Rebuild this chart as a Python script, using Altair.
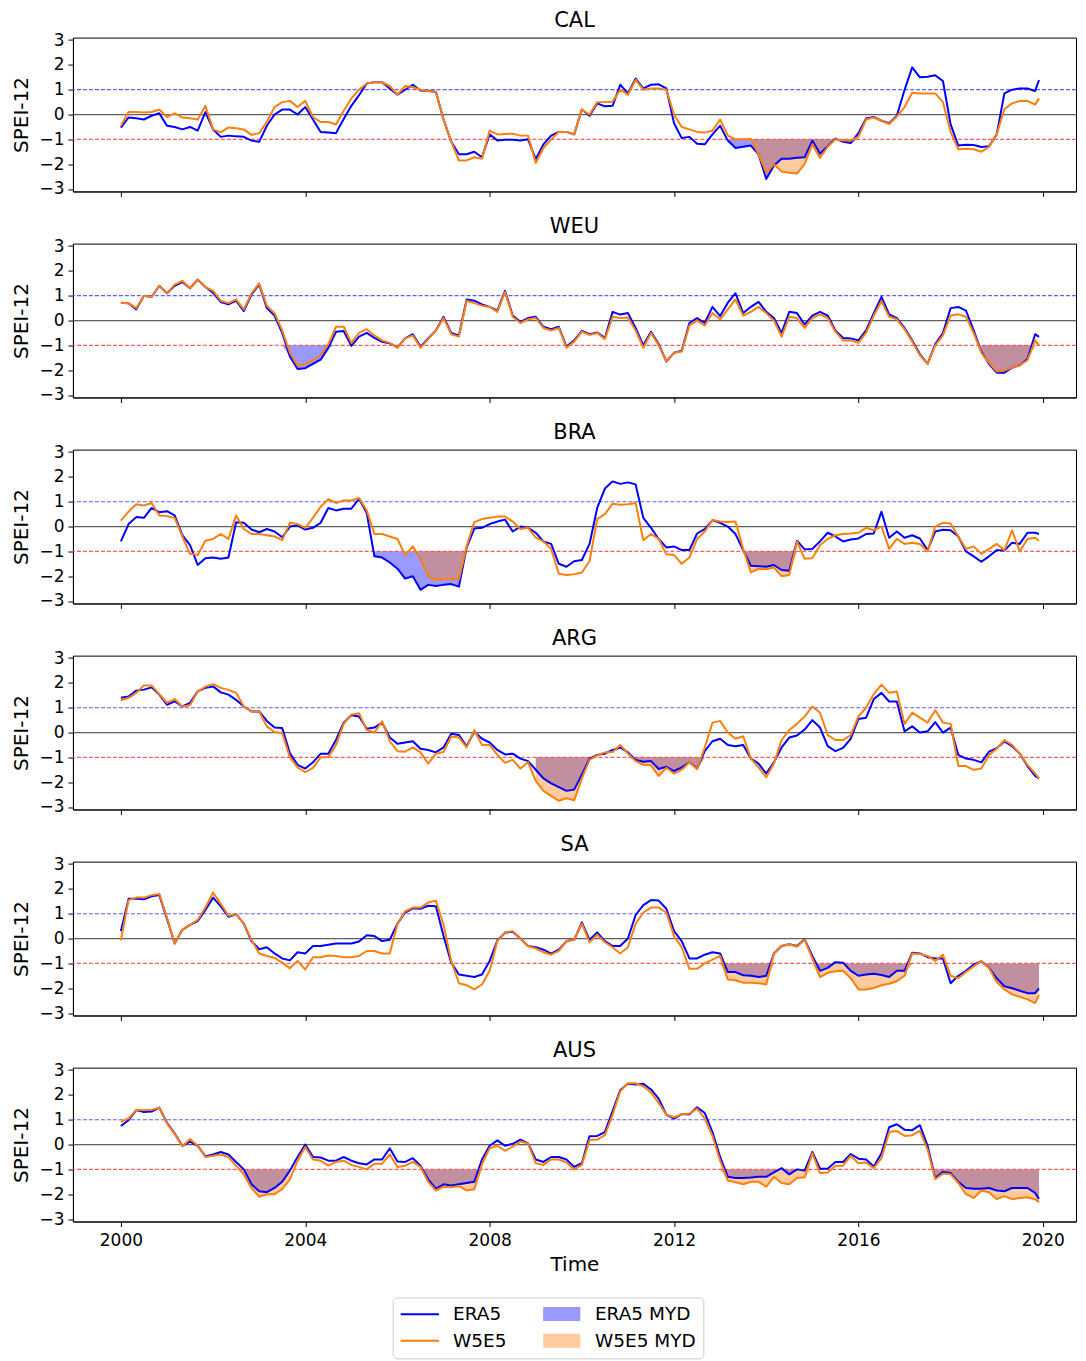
import altair as alt
import pandas as pd

# ---------------- data (2-month steps 2000.0 .. 2019.83 + Dec 2019) ----
TIME = [2000 + i / 6 for i in range(120)] + [2019.917]

REGIONS = ["CAL", "WEU", "BRA", "ARG", "SA", "AUS"]

CAL_ERA5 = [
    -0.53, -0.12, -0.15, -0.2, -0.05, 0.05, -0.45, -0.5, -0.6, -0.5,
    -0.65, 0.1, -0.6, -0.9, -0.85, -0.88, -0.9, -1.05, -1.1, -0.45,
    0.0, 0.2, 0.2, 0.0, 0.3, -0.2, -0.7, -0.72, -0.75, -0.18,
    0.35, 0.78, 1.25, 1.3, 1.3, 1.05, 0.8, 1.0, 1.2, 0.97,
    0.95, 0.92, -0.2, -1.1, -1.6, -1.6, -1.5, -1.72, -0.8, -1.05,
    -1.02, -1.02, -1.05, -1.0, -1.8, -1.2, -0.85, -0.7, -0.7, -0.8,
    0.2, -0.05, 0.45, 0.33, 0.35, 1.2, 0.85, 1.45, 1.05, 1.2,
    1.22, 1.05, -0.35, -0.95, -0.9, -1.18, -1.2, -0.8, -0.45, -1.05,
    -1.35, -1.3, -1.25, -1.6, -2.6, -2.05, -1.78, -1.78, -1.74, -1.72,
    -1.05, -1.58, -1.28, -0.97, -1.1, -1.15, -0.75, -0.16, -0.1, -0.25,
    -0.35, -0.05, 0.99, 1.9, 1.5, 1.52, 1.58, 1.35, -0.4, -1.25,
    -1.22, -1.23, -1.31, -1.28, -0.8, 0.85, 1.0, 1.05, 1.05, 0.95,
    1.39]
CAL_W5E5 = [
    -0.45, 0.1, 0.1, 0.08, 0.1, 0.2, -0.1, 0.05, -0.12, -0.15,
    -0.2, 0.35, -0.6, -0.72, -0.52, -0.55, -0.6, -0.82, -0.75, -0.3,
    0.3, 0.5, 0.55, 0.3, 0.55, -0.1, -0.3, -0.3, -0.4, 0.15,
    0.65, 1.0, 1.25, 1.3, 1.3, 1.15, 0.8, 1.15, 1.1, 1.0,
    0.95, 0.92, -0.2, -1.1, -1.85, -1.85, -1.72, -1.78, -0.65, -0.8,
    -0.78, -0.77, -0.85, -0.85, -1.95, -1.35, -1.0, -0.7, -0.7, -0.8,
    0.2, 0.0, 0.5, 0.5, 0.52, 1.0, 0.8, 1.4, 1.0, 1.05,
    1.05, 1.0, 0.0, -0.5, -0.6, -0.7, -0.72, -0.65, -0.2, -0.85,
    -1.0, -1.0, -0.98, -1.6, -2.35, -2.0, -2.3, -2.35, -2.38, -2.0,
    -1.2, -1.75, -1.3, -1.0, -1.05, -1.05, -0.9, -0.2, -0.12, -0.25,
    -0.38, -0.08, 0.3, 0.88, 0.85, 0.85, 0.85, 0.5, -0.7, -1.4,
    -1.38, -1.4, -1.5, -1.3, -0.8, 0.22, 0.45, 0.55, 0.55, 0.4,
    0.65]

WEU_ERA5 = [
    0.72, 0.7, 0.45, 1.0, 0.95, 1.4, 1.1, 1.4, 1.55, 1.3,
    1.65, 1.35, 1.12, 0.75, 0.65, 0.8, 0.38, 1.05, 1.45, 0.5,
    0.2, -0.5, -1.45, -1.95, -1.92, -1.75, -1.58, -1.1, -0.45, -0.42,
    -1.02, -0.65, -0.5, -0.7, -0.86, -0.92, -1.08, -0.72, -0.55, -1.05,
    -0.72, -0.4, 0.15, -0.5, -0.6, 0.85, 0.8, 0.65, 0.55, 0.4,
    1.2, 0.2, -0.05, 0.1, 0.15, -0.25, -0.35, -0.25, -1.05, -0.8,
    -0.42, -0.55, -0.48, -0.7, 0.35, 0.24, 0.3, -0.3, -1.0, -0.45,
    -0.95, -1.65, -1.3, -1.22, -0.1, 0.1, -0.1, 0.55, 0.18, 0.72,
    1.1, 0.3, 0.55, 0.75, 0.35, 0.1, -0.5, 0.35, 0.3, -0.16,
    0.2, 0.35, 0.2, -0.4, -0.7, -0.72, -0.8, -0.4, 0.3, 0.95,
    0.25, 0.1, -0.3, -0.8, -1.35, -1.75, -0.95, -0.5, 0.5, 0.55,
    0.4, -0.4, -1.25, -1.75, -2.1, -2.1, -1.9, -1.8, -1.55, -0.55,
    -0.66]
WEU_W5E5 = [
    0.72, 0.7, 0.5, 1.0, 0.95, 1.4, 1.1, 1.45, 1.6, 1.3,
    1.65, 1.35, 1.2, 0.8, 0.7, 0.85, 0.45, 1.1, 1.5, 0.6,
    0.3, -0.4, -1.3, -1.82, -1.75, -1.6, -1.4, -0.95, -0.25, -0.25,
    -0.9, -0.5, -0.35, -0.6, -0.8, -0.9, -1.1, -0.72, -0.6, -1.1,
    -0.75, -0.4, 0.1, -0.55, -0.65, 0.8, 0.7, 0.6, 0.55, 0.35,
    1.15, 0.15, -0.1, 0.05, 0.1, -0.3, -0.4, -0.3, -1.1, -0.85,
    -0.45, -0.58, -0.5, -0.75, 0.15, 0.1, 0.12, -0.4, -1.1, -0.5,
    -1.0, -1.65, -1.3, -1.25, -0.2, 0.0, -0.2, 0.3, 0.05, 0.45,
    0.85, 0.2, 0.35, 0.55, 0.3, 0.0, -0.65, 0.15, 0.1, -0.3,
    0.1, 0.25, 0.1, -0.45, -0.8, -0.8, -0.9, -0.5, 0.2, 0.78,
    0.15, 0.05, -0.35, -0.85, -1.4, -1.75, -1.0, -0.6, 0.2, 0.25,
    0.15, -0.5, -1.3, -1.7, -2.05, -2.02, -1.9, -1.8, -1.6, -0.8,
    -1.0]

BRA_ERA5 = [
    -0.6, 0.1, 0.38, 0.35, 0.75, 0.58, 0.62, 0.45, -0.35, -0.75,
    -1.55, -1.28, -1.25, -1.3, -1.25, 0.17, 0.15, -0.12, -0.23, -0.1,
    -0.2, -0.43, 0.0, 0.05, -0.12, -0.05, 0.15, 0.75, 0.65, 0.72,
    0.72, 1.12, 0.55, -1.2, -1.25, -1.45, -1.7, -2.1, -2.0, -2.55,
    -2.35, -2.4, -2.35, -2.32, -2.42, -0.85, -0.08, -0.05, 0.1, 0.2,
    0.28, -0.2, 0.0, -0.05, -0.25, -0.6, -0.7, -1.5, -1.62, -1.4,
    -1.35, -0.7, 0.75, 1.53, 1.82, 1.72, 1.78, 1.7, 0.35, -0.05,
    -0.5, -0.84, -0.8, -0.95, -0.95, -0.28, -0.1, 0.26, 0.15, 0.0,
    -0.3, -0.95, -1.58, -1.6, -1.62, -1.55, -1.75, -1.78, -0.57, -0.92,
    -0.9, -0.6, -0.25, -0.4, -0.6, -0.52, -0.48, -0.3, -0.28, 0.6,
    -0.45, -0.2, -0.45, -0.35, -0.48, -0.95, -0.2, -0.13, -0.15, -0.4,
    -1.0, -1.2, -1.42, -1.2, -0.95, -0.97, -0.65, -0.7, -0.25, -0.25,
    -0.3]
BRA_W5E5 = [
    0.24, 0.6, 0.9, 0.85, 0.95, 0.45, 0.42, 0.35, -0.4, -1.1,
    -1.15, -0.57, -0.5, -0.3, -0.5, 0.45, -0.1, -0.3, -0.3, -0.35,
    -0.4, -0.55, 0.15, 0.1, -0.05, 0.35, 0.8, 1.1, 0.95, 1.05,
    1.05, 1.15, 0.65, -0.3, -0.3, -0.4, -0.5, -1.15, -0.8, -1.3,
    -2.0, -2.15, -2.12, -2.1, -2.15, -0.8, 0.18, 0.3, 0.35, 0.4,
    0.4, 0.2, -0.1, -0.05, -0.45, -0.6, -0.9, -1.9, -1.95, -1.92,
    -1.85, -1.4, 0.3, 0.5, 0.92, 0.88, 0.9, 0.95, -0.55, -0.3,
    -0.5, -1.12, -1.15, -1.5, -1.25, -0.5, -0.2, 0.26, 0.2, 0.18,
    0.2, -0.9, -1.85, -1.7, -1.72, -1.65, -2.0, -1.95, -0.6, -1.3,
    -1.28, -0.75, -0.5, -0.35, -0.3, -0.28, -0.25, -0.05, -0.15, 0.0,
    -0.9, -0.5, -0.7, -0.65, -0.7, -1.0, 0.0, 0.15, 0.12, -0.4,
    -0.9, -0.8, -1.1, -0.9, -0.7, -0.95, -0.15, -1.0, -0.5, -0.45,
    -0.57]

ARG_ERA5 = [
    1.4, 1.45, 1.69, 1.73, 1.82, 1.53, 1.12, 1.26, 1.05, 1.2,
    1.66, 1.8, 1.86, 1.62, 1.53, 1.32, 1.05, 0.85, 0.85, 0.47,
    0.2, 0.18, -0.84, -1.3, -1.45, -1.2, -0.85, -0.85, -0.3, 0.4,
    0.7, 0.65, 0.15, 0.2, 0.4, -0.2, -0.45, -0.4, -0.35, -0.65,
    -0.7, -0.8, -0.6, -0.05, -0.1, -0.55, 0.04, -0.25, -0.4, -0.7,
    -0.88, -0.85, -1.05, -1.15, -1.5, -1.85, -2.05, -2.2, -2.35, -2.3,
    -1.7, -1.05, -0.9, -0.85, -0.7, -0.6, -0.8, -1.1, -1.18, -1.15,
    -1.47, -1.38, -1.55, -1.4, -1.2, -1.45, -0.75, -0.35, -0.25, -0.5,
    -0.55, -0.5, -1.05, -1.25, -1.65, -1.2, -0.6, -0.2, -0.12, 0.12,
    0.5, 0.2, -0.55, -0.75, -0.62, -0.25, 0.55, 0.6, 1.35, 1.6,
    1.25, 1.25, 0.05, 0.25, 0.0, 0.05, 0.42, 0.0, 0.2, -0.9,
    -1.05, -1.1, -1.2, -0.77, -0.63, -0.36, -0.55, -0.85, -1.35, -1.75,
    -1.85]
ARG_W5E5 = [
    1.3, 1.4, 1.6, 1.9, 1.9, 1.55, 1.2, 1.35, 1.05, 1.1,
    1.65, 1.85, 1.95, 1.8, 1.72, 1.6, 1.05, 0.85, 0.85, 0.25,
    0.02, -0.02, -1.0, -1.4, -1.6, -1.42, -1.0, -1.0, -0.5, 0.35,
    0.72, 0.78, 0.1, 0.0, 0.45, -0.35, -0.75, -0.77, -0.6, -0.8,
    -1.25, -0.85, -0.78, -0.16, -0.2, -0.6, 0.1, -0.5, -0.5, -0.9,
    -1.22, -1.1, -1.45, -1.2, -1.95, -2.35, -2.55, -2.75, -2.65, -2.73,
    -1.85, -1.1, -0.92, -0.8, -0.78, -0.5, -0.85, -1.15, -1.3, -1.32,
    -1.75, -1.42, -1.65, -1.5, -1.2, -1.48, -0.6, 0.4, 0.47, 0.0,
    -0.25, -0.15, -1.05, -1.4, -1.8, -1.25, -0.3, 0.1, 0.35, 0.65,
    1.05, 0.8, -0.1, -0.3, -0.3, -0.1, 0.65, 1.0, 1.55, 1.93,
    1.6, 1.65, 0.35, 0.8, 0.6, 0.4, 0.9, 0.4, 0.35, -1.35,
    -1.35, -1.5, -1.45, -0.9, -0.65, -0.3, -0.5, -0.85, -1.3, -1.65,
    -1.85]

SA_ERA5 = [
    0.3, 1.6, 1.6, 1.58, 1.7, 1.75, 0.8, -0.2, 0.35, 0.55,
    0.7, 1.15, 1.65, 1.3, 0.88, 0.98, 0.6, -0.1, -0.43, -0.35,
    -0.6, -0.8, -0.88, -0.55, -0.6, -0.3, -0.3, -0.25, -0.2, -0.2,
    -0.2, -0.12, 0.13, 0.1, -0.1, -0.05, 0.6, 1.05, 1.22, 1.2,
    1.32, 1.3, 0.1, -0.97, -1.45, -1.5, -1.55, -1.45, -0.9, -0.08,
    0.24, 0.27, 0.0, -0.3, -0.35, -0.45, -0.61, -0.45, -0.1, -0.05,
    0.65, -0.05, 0.25, -0.1, -0.3, -0.3, 0.0, 0.95, 1.35, 1.55,
    1.53, 1.2, 0.3, -0.1, -0.8, -0.8, -0.65, -0.55, -0.6, -1.35,
    -1.35, -1.48, -1.5, -1.55, -1.5, -0.6, -0.3, -0.23, -0.3, -0.03,
    -0.7, -1.3, -1.18, -0.95, -0.97, -1.3, -1.5, -1.45, -1.42, -1.47,
    -1.55, -1.3, -1.3, -0.57, -0.6, -0.75, -0.8, -0.8, -1.8, -1.5,
    -1.3, -1.05, -0.91, -1.18, -1.6, -1.92, -2.0, -2.1, -2.2, -2.2,
    -2.01]
SA_W5E5 = [
    -0.07, 1.55, 1.65, 1.65, 1.75, 1.8, 0.85, -0.2, 0.35, 0.55,
    0.75, 1.25, 1.85, 1.4, 0.92, 0.98, 0.6, -0.05, -0.6, -0.7,
    -0.78, -0.97, -1.2, -0.9, -1.25, -0.75, -0.75, -0.68, -0.7, -0.75,
    -0.75, -0.7, -0.5, -0.5, -0.6, -0.6, 0.6, 1.1, 1.25, 1.25,
    1.45, 1.53, 0.55, -0.9, -1.8, -1.88, -2.05, -1.85, -1.3, -0.1,
    0.25, 0.3, 0.0, -0.3, -0.4, -0.55, -0.65, -0.5, -0.1, -0.05,
    0.6, -0.15, 0.15, -0.15, -0.35, -0.6, -0.35, 0.6, 1.05, 1.25,
    1.25, 1.05, 0.1, -0.35, -1.22, -1.22, -1.0, -0.85, -0.7, -1.65,
    -1.68, -1.78, -1.78, -1.8, -1.85, -0.6, -0.3, -0.23, -0.33, -0.05,
    -0.8, -1.55, -1.38, -1.32, -1.3, -1.6, -2.05, -2.05, -1.99, -1.88,
    -1.82, -1.72, -1.5, -0.6, -0.62, -0.7, -0.9, -0.65, -1.5, -1.6,
    -1.35, -1.12, -0.91, -1.2, -1.75, -2.05, -2.25, -2.35, -2.45, -2.6,
    -2.28]

AUS_ERA5 = [
    0.75, 0.98, 1.39, 1.31, 1.33, 1.49, 0.88, 0.45, -0.05, 0.12,
    -0.05, -0.47, -0.4, -0.3, -0.4, -0.7, -1.0, -1.6, -1.88, -1.92,
    -1.75, -1.5, -1.05, -0.5, 0.0, -0.5, -0.52, -0.65, -0.65, -0.5,
    -0.65, -0.75, -0.8, -0.6, -0.6, -0.15, -0.68, -0.7, -0.55, -0.85,
    -1.4, -1.78, -1.6, -1.65, -1.6, -1.55, -1.5, -0.6, -0.05, 0.17,
    -0.05, 0.03, 0.2, 0.05, -0.6, -0.7, -0.5, -0.5, -0.6, -0.9,
    -0.75, 0.34, 0.35, 0.5, 1.35, 2.2, 2.45, 2.42, 2.45, 2.22,
    1.85, 1.2, 1.05, 1.23, 1.22, 1.5, 1.27, 0.5, -0.5, -1.3,
    -1.35, -1.35, -1.33, -1.3, -1.3, -1.12, -0.95, -1.2, -1.0, -1.05,
    -0.3, -0.97, -0.97, -0.7, -0.7, -0.38, -0.57, -0.6, -0.88, -0.35,
    0.7, 0.82, 0.6, 0.58, 0.78, -0.05, -1.35, -1.1, -1.15, -1.5,
    -1.75, -1.78, -1.78, -1.75, -1.85, -1.88, -1.75, -1.75, -1.75, -1.95,
    -2.19]
AUS_W5E5 = [
    0.92, 1.05, 1.4, 1.38, 1.4, 1.48, 0.85, 0.42, -0.07, 0.22,
    -0.05, -0.5, -0.45, -0.4, -0.5, -0.85, -1.2, -1.75, -2.1, -2.0,
    -2.0, -1.8, -1.4, -0.65, -0.1, -0.6, -0.65, -0.85, -0.7, -0.65,
    -0.82, -0.9, -1.0, -0.77, -0.77, -0.4, -0.9, -0.85, -0.7, -0.9,
    -1.5, -1.85, -1.7, -1.72, -1.67, -1.85, -1.8, -0.8, -0.15, -0.05,
    -0.25, -0.08, 0.12, 0.04, -0.75, -0.82, -0.6, -0.6, -0.72, -1.0,
    -0.82, 0.18, 0.2, 0.38, 1.2, 2.15, 2.47, 2.47, 2.35, 2.1,
    1.68, 1.2, 1.1, 1.22, 1.25, 1.45, 1.05, 0.35, -0.65, -1.45,
    -1.52, -1.6, -1.5, -1.5, -1.7, -1.3, -1.55, -1.6, -1.35, -1.32,
    -0.35, -1.15, -1.13, -0.85, -0.85, -0.45, -0.75, -0.72, -0.95, -0.55,
    0.51, 0.55, 0.35, 0.38, 0.55, -0.2, -1.4, -1.17, -1.2, -1.55,
    -2.0, -2.15, -1.85, -1.92, -2.2, -2.08, -2.2, -2.15, -2.12, -2.2,
    -2.32]

ERA5 = {"CAL": CAL_ERA5, "WEU": WEU_ERA5, "BRA": BRA_ERA5,
        "ARG": ARG_ERA5, "SA": SA_ERA5, "AUS": AUS_ERA5}
W5E5 = {"CAL": CAL_W5E5, "WEU": WEU_W5E5, "BRA": BRA_W5E5,
        "ARG": ARG_W5E5, "SA": SA_W5E5, "AUS": AUS_W5E5}

# multi-year drought periods (start, end) in decimal years
MYD_ERA5 = {
    "CAL": [(2013.1, 2016.05)],
    "WEU": [(2003.45, 2004.7), (2018.6, 2019.85)],
    "BRA": [(2005.45, 2007.55), (2013.45, 2014.7)],
    "ARG": [(2008.95, 2012.7)],
    "SA": [(2012.95, 2017.2), (2018.6, 2019.95)],
    "AUS": [(2002.45, 2003.7), (2006.45, 2007.85), (2012.95, 2015.05), (2017.6, 2019.95)],
}
MYD_W5E5 = {
    "CAL": [(2013.1, 2016.05)],
    "WEU": [(2018.6, 2019.85)],
    "BRA": [(2006.45, 2007.55), (2013.45, 2014.7)],
    "ARG": [(2008.95, 2012.7)],
    "SA": [(2012.95, 2017.2), (2018.6, 2019.95)],
    "AUS": [(2002.45, 2003.7), (2006.45, 2007.85), (2012.95, 2015.05), (2017.6, 2019.95)],
}

for r in REGIONS:
    assert len(ERA5[r]) == len(TIME), (r, "ERA5", len(ERA5[r]))
    assert len(W5E5[r]) == len(TIME), (r, "W5E5", len(W5E5[r]))

# legend entries (column-major: first column ERA5/W5E5, second the MYD patches)
LEGEND_KEYS = ["ERA5", "W5E5", "ERA5 MYD", "W5E5 MYD"]
LEGEND_COLORS = ["#0000ff", "#ff7f0e", "#9999ff", "#ffcc9f"]
LINE_PATH = "M-2.4,0H2.4"
RECT_PATH = "M-2.2,-0.75H2.2V0.75H-2.2Z"
LEGEND_SHAPES = [LINE_PATH, LINE_PATH, RECT_PATH, RECT_PATH]

REF_LEVELS = {"zero": 0.0, "wet": 1.0, "dry": -1.0}

X_DOMAIN = [1998.96, 2020.72]
Y_DOMAIN = [-3.1, 3.1]
X_TICKS = [2000, 2004, 2008, 2012, 2016, 2020]
Y_TICKS = [-3, -2, -1, 0, 1, 2, 3]

FONT = "DejaVu Sans"
W = 1004
H = 154


def fill_frame(values, periods):
    rows = []
    for k, (a, b) in enumerate(periods):
        for t, v in zip(TIME, values):
            if a <= t <= b:
                rows.append({"t": t, "low": min(v, -1.0), "base": -1.0, "period": k})
    return pd.DataFrame(rows)


def make_panel(region, last):
    xscale = alt.Scale(domain=X_DOMAIN, nice=False, zero=False)
    yscale = alt.Scale(domain=Y_DOMAIN, nice=False, zero=False)
    xaxis = alt.Axis(values=X_TICKS, format="d", labels=last,
                     title="Time" if last else None)
    yaxis = alt.Axis(values=Y_TICKS, format="d", title="SPEI-12")
    x = alt.X("t:Q", scale=xscale, axis=xaxis)

    era_df = pd.DataFrame({"t": TIME, "v": ERA5[region]})
    w5_df = pd.DataFrame({"t": TIME, "v": W5E5[region]})

    layers = []
    era_fill = fill_frame(ERA5[region], MYD_ERA5[region])
    if len(era_fill):
        layers.append(
            alt.Chart(era_fill).mark_area(color="#0000ff", opacity=0.4, interpolate="linear")
            .encode(x=x, y=alt.Y("low:Q", scale=yscale, axis=yaxis), y2="base:Q",
                    detail="period:N"))
    w5_fill = fill_frame(W5E5[region], MYD_W5E5[region])
    if len(w5_fill):
        layers.append(
            alt.Chart(w5_fill).mark_area(color="#ff7f0e", opacity=0.4, interpolate="linear")
            .encode(x=x, y=alt.Y("low:Q", scale=yscale, axis=yaxis), y2="base:Q",
                    detail="period:N"))

    layers.append(
        alt.Chart(pd.DataFrame({"y": [REF_LEVELS["zero"]]}))
        .mark_rule(color="#444444", strokeWidth=1.2, opacity=0.85)
        .encode(y=alt.Y("y:Q", scale=yscale, axis=yaxis)))
    layers.append(
        alt.Chart(pd.DataFrame({"y": [REF_LEVELS["wet"]]}))
        .mark_rule(color="#4d4dff", strokeWidth=1.2, opacity=0.9, strokeDash=[4, 2])
        .encode(y=alt.Y("y:Q", scale=yscale, axis=yaxis)))
    layers.append(
        alt.Chart(pd.DataFrame({"y": [REF_LEVELS["dry"]]}))
        .mark_rule(color="#ff4d4d", strokeWidth=1.2, opacity=0.9, strokeDash=[4, 2])
        .encode(y=alt.Y("y:Q", scale=yscale, axis=yaxis)))

    layers.append(
        alt.Chart(era_df).mark_line(color="#0000ff", strokeWidth=2, strokeJoin="round")
        .encode(x=x, y=alt.Y("v:Q", scale=yscale, axis=yaxis)))
    layers.append(
        alt.Chart(w5_df).mark_line(color="#ff7f0e", strokeWidth=2, strokeJoin="round")
        .encode(x=x, y=alt.Y("v:Q", scale=yscale, axis=yaxis)))

    if last:
        leg = alt.Legend(
            title=None, orient="none", legendX=320, legendY=1261,
            columns=2, direction="vertical",
            labelFont=FONT, labelFontSize=18.5, labelColor="black",
            symbolSize=256, symbolStrokeWidth=2, symbolOpacity=1,
            symbolOffset=11, labelOffset=24,
            columnPadding=32, rowPadding=6,
            strokeColor="#cccccc", fillColor="white", padding=7, cornerRadius=4,
        )
        leg_df = pd.DataFrame({"key": LEGEND_KEYS, "t": [None] * 4, "v": [None] * 4})
        layers.append(
            alt.Chart(leg_df).mark_point(opacity=0)
            .encode(
                x=alt.X("t:Q", scale=xscale, axis=xaxis),
                y=alt.Y("v:Q", scale=yscale, axis=yaxis),
                fill=alt.Fill("key:N", scale=alt.Scale(domain=LEGEND_KEYS, range=LEGEND_COLORS), legend=leg),
                stroke=alt.Stroke("key:N", scale=alt.Scale(domain=LEGEND_KEYS, range=LEGEND_COLORS), legend=leg),
                shape=alt.Shape("key:N", scale=alt.Scale(domain=LEGEND_KEYS, range=LEGEND_SHAPES), legend=leg),
            ))

    return alt.layer(*layers).properties(
        width=W, height=H,
        title=alt.TitleParams(region, font=FONT, fontSize=21, fontWeight="normal",
                              color="black", anchor="middle", offset=0),
    )


panels = [make_panel(r, i == len(REGIONS) - 1) for i, r in enumerate(REGIONS)]

chart = alt.vconcat(*panels, spacing=52.2, bounds="flush").properties(
    padding={"left": 3, "top": 0, "right": 0, "bottom": 0}
).configure_axis(
    grid=False, labelFont=FONT, labelFontSize=17, labelColor="black",
    titleFont=FONT, titleFontSize=20, titleFontWeight="normal", titleColor="black",
    tickColor="black", domainColor="black", tickSize=5,
).configure_axisY(titlePadding=7, labelPadding=4).configure_axisX(
    titlePadding=6, labelPadding=6
).configure_view(
    stroke="black", strokeWidth=1
)

chart.save("out.html", embed_options={"renderer": "svg", "actions": False})
